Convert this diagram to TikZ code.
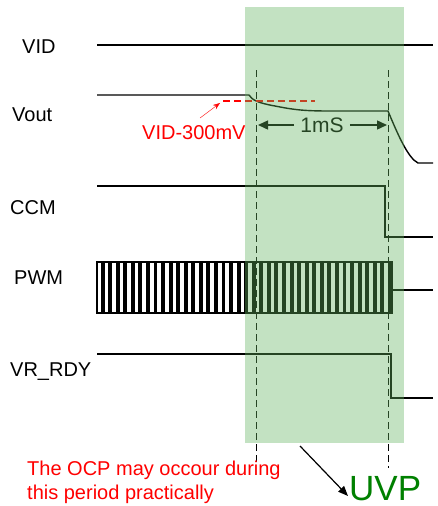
\documentclass[tikz,border=0pt]{standalone}
\usepackage{fontspec}
\setmainfont{Liberation Sans}
\usetikzlibrary{arrows.meta}
\definecolor{uvpgreen}{RGB}{0,128,0}
\definecolor{zonegreen}{RGB}{98,180,94}
\tikzset{
    sig/.style={line width=1.4pt},
    lbl/.style={anchor=base west, inner sep=0pt, font=\fontsize{20}{24}\selectfont},
    guide/.style={line width=0.8pt, dash pattern=on 7pt off 4pt},
}
\begin{document}
\begin{tikzpicture}[x=1pt, y=-1pt]
    \useasboundingbox (0,0) rectangle (437,506);
    % signal names
    \node[lbl] (vid) at (22,53) {VID};
    \node[lbl] (vout) at (12,121) {Vout};
    \node[lbl] (ccm) at (10,214) {CCM};
    \node[lbl] (pwm) at (14,284) {PWM};
    \node[lbl] (vrrdy) at (10,376) {VR\_RDY};
    % waveforms
    \draw[sig] (97,45) -- (433,45);
    \draw[sig] (97,95) -- (249,95) .. controls (252,100) and (258,103) .. (275,106)
        .. controls (295,110) and (305,111) .. (330,111) -- (388,111)
        .. controls (398,135) and (408,158) .. (418,163) -- (433,163);
    \draw[sig] (97,186) -- (385,186) -- (385,237) -- (433,237);
    \draw[sig, fill=white] (97,262) rectangle (392,313);
    \foreach \i in {0,...,38}
        \fill ({97+3.6+\i*7.56},262) rectangle ++(3.9,51);
    \draw[sig] (97,262) rectangle (392,313);
    \draw[sig] (392,290) -- (433,290);
    \draw[sig] (97,354) -- (391,354) -- (391,398) -- (433,398);
    % threshold
    \draw[red, guide, line width=1.3pt] (223,101) -- (315,101);
    \node[lbl, text=red] (thr) at (142,139) {VID-300mV};
    \draw[red, -{Stealth[length=7pt]}] (200,118) -- (220,103);
    % 1mS window
    \coordinate (t1) at (256,70);
    \coordinate (t2) at (388,70);
    \draw[guide] (t1) -- (256,462);
    \draw[guide] (t2) -- (388,468);
    \node[inner sep=6pt] (dly) at (322,125) {\fontsize{21}{24}\selectfont 1mS};
    \draw[sig, -{Triangle[length=10pt,width=9pt]}] (dly.west) -- (258,125);
    \draw[sig, -{Triangle[length=10pt,width=9pt]}] (dly.east) -- (387,125);
    % OCP zone
    \fill[zonegreen, opacity=0.38] (245,7) rectangle (404,443);
    \node[lbl, text=red] (ocp) at (27,475) {The OCP may occour during};
    \node[lbl, text=red] (ocp2) at (27,499) {this period practically};
    \node[anchor=base west, inner sep=0pt, text=uvpgreen,
        font=\fontsize{35}{38}\selectfont] (uvp) at (349,500) {UVP};
    \draw[line width=1.2pt, -{Triangle[length=10pt,width=8pt]}] (300,446) -- (348,496);
\end{tikzpicture}
\end{document}
